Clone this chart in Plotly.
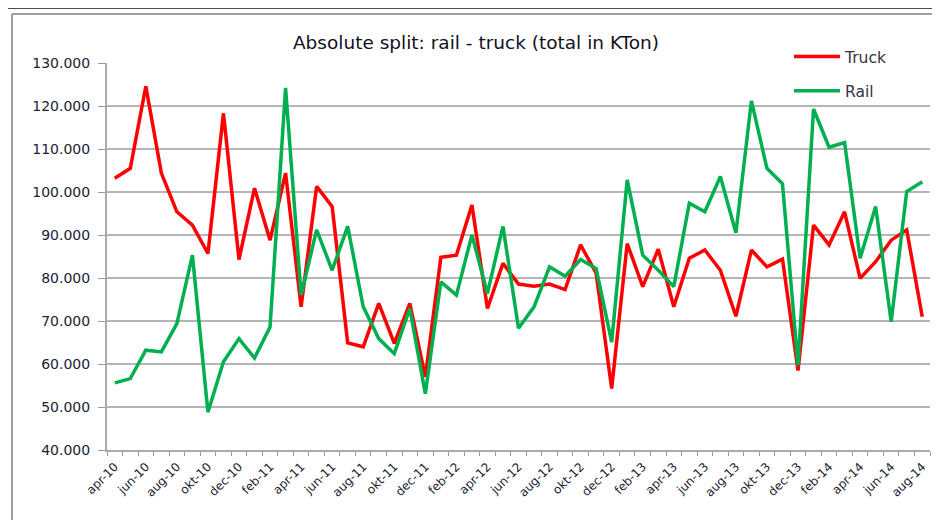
import plotly.graph_objects as go

months = []
mnames = ["jan", "feb", "mrt", "apr", "mei", "jun", "jul", "aug", "sep", "okt", "nov", "dec"]
for y in range(10, 15):
    for m in range(12):
        if (y == 10 and m < 3) or (y == 14 and m > 7):
            continue
        months.append(f"{mnames[m]}-{y}")

truck = [103200, 105500, 124600, 104400, 95400, 92300, 85700, 118300, 84300, 100900,
         88800, 104400, 73300, 101300, 96600, 64900, 64000, 74100, 64800, 74100,
         57000, 84800, 85300, 97000, 72900, 83400, 78600, 78100, 78600, 77300,
         87700, 81100, 54300, 88000, 78000, 86700, 73300, 84600, 86500, 81800,
         71100, 86500, 82600, 84400, 58500, 92300, 87700, 95400, 79900, 83800,
         88800, 91200, 71000]
rail = [55600, 56600, 63200, 62800, 69400, 85300, 48800, 60500, 65900, 61400,
        68600, 124200, 76000, 91200, 81800, 92000, 73300, 65900, 62400, 72900,
        53100, 79100, 76000, 90000, 76400, 92000, 68300, 73300, 82600, 80400,
        84300, 82200, 65100, 102800, 85300, 81800, 78000, 97400, 95400, 103600,
        90500, 121200, 105500, 101900, 59700, 119300, 110400, 111500, 84600, 96600,
        69800, 100100, 102400]

tick_text = [m if i % 2 == 0 else "" for i, m in enumerate(months)]
y_ticks = list(range(40000, 130001, 10000))

font_family = "'DejaVu Sans', sans-serif"
fig = go.Figure()
fig.add_trace(go.Scatter(x=months, y=truck, mode="lines", name="Truck",
                         legendgroup="truck",
                         line=dict(color="#ff0000", width=3.5)))
fig.add_trace(go.Scatter(x=months, y=rail, mode="lines", name="Rail",
                         legendgroup="rail",
                         line=dict(color="#00b050", width=3.5)))

# page has an 8px body margin: work in page pixels, convert to figure
OFF = 8
W, H = 940 - OFF, 520 - OFF
PL, PR, PT, PB = 107, 930, 63, 450  # plot area in page pixels
L, T = PL - OFF, PT - OFF
R, B = W - (PR - OFF), H - (PB - OFF)
pw = PR - PL
ph = PB - PT

def px(xp):
    return (xp - PL) / pw

def py(yp):
    return (PB - yp) / ph

fig.update_layout(
    width=W, height=H,
    margin=dict(l=L, r=R, t=T, b=B, pad=0, autoexpand=False),
    paper_bgcolor="white", plot_bgcolor="white",
    separators=",.",
    font=dict(family=font_family, color="#222233"),
    title=dict(text="Absolute split: rail - truck (total in KTon)",
               x=(476 - OFF) / W, xref="container", xanchor="center",
               y=1 - (43 - OFF) / H, yref="container", yanchor="middle",
               font=dict(size=18.5, color="#111122")),
    showlegend=True,
    legend=dict(x=px(789), y=py(40), xanchor="left", yanchor="top",
                traceorder="grouped", tracegroupgap=11, itemwidth=46,
                bgcolor="rgba(0,0,0,0)", font=dict(size=15.5, color="#333344")),
    xaxis=dict(type="category", categoryorder="array", categoryarray=months,
               range=[-0.5, len(months) - 0.5],
               tickmode="array", tickvals=months, ticktext=tick_text,
               tickson="boundaries", ticks="outside", ticklen=4, tickwidth=1,
               tickcolor="#999999", tickangle=-45, ticklabelstandoff=3,
               tickfont=dict(size=12, color="#222233"),
               showgrid=False, showline=True, linecolor="#aaaaaa", linewidth=2,
               zeroline=False, automargin=False),
    yaxis=dict(range=[40000, 130000], tickmode="array", tickvals=y_ticks,
               tickformat=",.0f", ticks="outside", ticklen=7, tickwidth=1,
               tickcolor="#999999", tickfont=dict(size=14, color="#222233"),
               ticklabelstandoff=5,
               showgrid=True, gridcolor="#b5b5b5", gridwidth=2,
               showline=True, linecolor="#aaaaaa", linewidth=2, zeroline=False,
               automargin=False),
)

# chart frame decorations
fig.add_shape(type="line", xref="paper", yref="paper",
              x0=px(OFF), x1=px(940), y0=py(8), y1=py(8),
              line=dict(color="#111111", width=1.5), layer="below")
fig.add_shape(type="line", xref="paper", yref="paper",
              x0=px(12), x1=px(940), y0=py(14), y1=py(14),
              line=dict(color="#a0a0a0", width=2), layer="below")
fig.add_shape(type="line", xref="paper", yref="paper",
              x0=px(12), x1=px(12), y0=py(14), y1=py(520),
              line=dict(color="#a0a0a0", width=2), layer="below")

fig.write_html("out.html")
